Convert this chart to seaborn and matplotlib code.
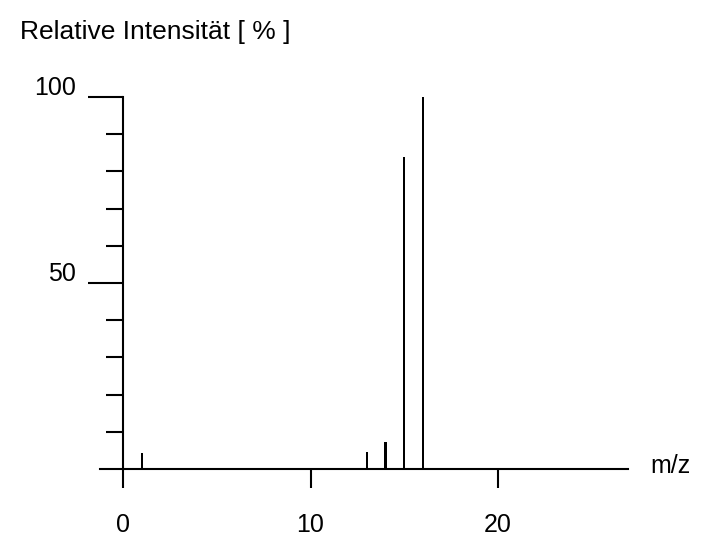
import matplotlib
matplotlib.use("Agg")
import matplotlib.pyplot as plt
import matplotlib.transforms as mtransforms
from matplotlib.ticker import FixedLocator
import pandas as pd
import seaborn as sns

# peaks
mz = [1, 13, 14, 15, 16]
intensity = [4.3, 4.5, 7.3, 84, 100]

xticks = [0, 10, 20]
yticks = [50, 100]
yminor = [10, 20, 30, 40, 60, 70, 80, 90]

df = pd.DataFrame({"mz": mz, "intensity": intensity})

sns.set_theme(style="white")
plt.rcParams["font.family"] = ["Liberation Sans", "DejaVu Sans"]
plt.rcParams["text.color"] = "black"
plt.rcParams["axes.labelcolor"] = "black"
plt.rcParams["xtick.color"] = "black"
plt.rcParams["ytick.color"] = "black"

fig = plt.figure(figsize=(7.06, 5.36), dpi=100)
ax = fig.add_axes([100 / 706, 67 / 536, 528 / 706, 372 / 536])

sns.barplot(data=df, x="mz", y="intensity", native_scale=True, width=0.12,
            color="black", linewidth=0, saturation=1, ax=ax)

ax.set_xlim(-1.23, 26.93)
ax.set_ylim(0, 100)

for s in ["top", "right"]:
    ax.spines[s].set_visible(False)
ax.spines["left"].set_position(("data", 0))
for s in ["left", "bottom"]:
    ax.spines[s].set_color("black")
    ax.spines[s].set_linewidth(1.5)

ax.set_xticks(xticks)
ax.set_xticklabels([str(t) for t in xticks])
ax.tick_params(axis="x", direction="out", length=13.7, width=1.5,
               color="black", labelcolor="black", pad=18, labelsize=18,
               bottom=True)

ax.yaxis.set_major_locator(FixedLocator(yticks))
ax.yaxis.set_minor_locator(FixedLocator(yminor))
ax.set_yticklabels([str(t) for t in yticks])
ax.tick_params(axis="y", which="major", direction="out", length=25, width=1.5,
               color="black", labelcolor="black", pad=9, labelsize=18,
               left=True)
ax.tick_params(axis="y", which="minor", direction="out", length=12.5,
               width=1.5, color="black", left=True)

# labels sit a little above their ticks
shift = mtransforms.ScaledTranslation(0, 8 / 72, fig.dpi_scale_trans)
for lab in ax.get_yticklabels():
    lab.set_transform(lab.get_transform() + shift)

ax.set_xlabel("m/z", fontsize=18, ha="center", va="center", color="black")
ax.xaxis.set_label_coords(1.08, 0.008)
ax.set_ylabel("Relative Intensität [ % ]", fontsize=19, rotation=0,
              ha="left", va="center", color="black")
ax.yaxis.set_label_coords(-0.1515, 1.1747)

ax.grid(False)
fig.savefig("out.png", dpi=100)
